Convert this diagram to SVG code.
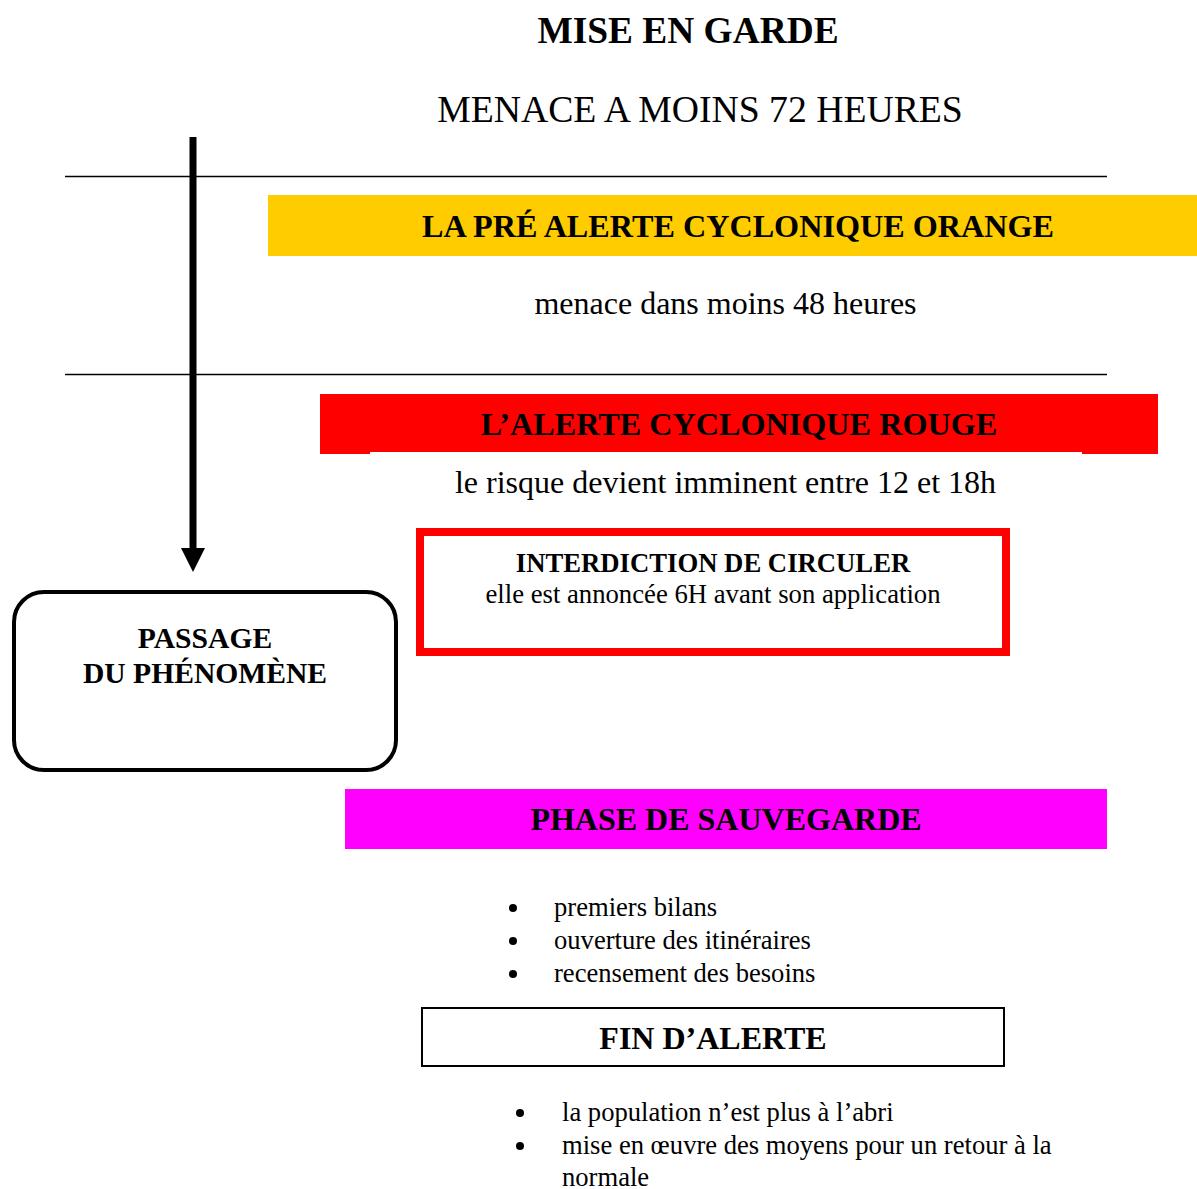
<svg xmlns="http://www.w3.org/2000/svg" width="1197" height="1189" viewBox="0 0 1197 1189">
<style>
text{font-family:"Liberation Serif","Times New Roman",serif;fill:#000}
.b{font-weight:bold}
.c{text-anchor:middle}
.rule{stroke:#000;stroke-width:1.5}
.li{font-size:26.6px}
</style>
<rect width="1197" height="1189" fill="#fff"/>
<g id="title">
<text class="b c" x="688" y="43" font-size="37.4">MISE EN GARDE</text>
<text class="c" x="700" y="122" font-size="37.7">MENACE A MOINS 72 HEURES</text>
</g>
<g id="rules">
<line class="rule" x1="65" y1="176.5" x2="1107" y2="176.5"/>
<line class="rule" x1="65" y1="374.5" x2="1107" y2="374.5"/>
</g>
<g id="pre-alerte">
<rect x="268" y="195" width="929" height="61" fill="#FFCC00"/>
<text class="b c" x="738" y="237" font-size="32.2">LA PRÉ ALERTE CYCLONIQUE ORANGE</text>
<text class="c" x="725.5" y="314" font-size="32">menace dans moins 48 heures</text>
</g>
<g id="alerte-rouge">
<rect x="320" y="394" width="838" height="58" fill="#FF0000"/>
<rect x="320" y="450" width="50" height="4" fill="#FF0000"/>
<rect x="1082" y="450" width="76" height="4" fill="#FF0000"/>
<text class="b c" x="739" y="435" font-size="32.2">L’ALERTE CYCLONIQUE ROUGE</text>
<text class="c" x="725.5" y="493" font-size="32">le risque devient imminent entre 12 et 18h</text>
</g>
<g id="interdiction">
<rect x="420" y="532" width="586" height="120" fill="#fff" stroke="#FF0000" stroke-width="8"/>
<text class="b c" x="713" y="572" font-size="26.7">INTERDICTION DE CIRCULER</text>
<text class="c" x="713" y="603" font-size="26.7">elle est annoncée 6H avant son application</text>
</g>
<g id="passage">
<rect x="14" y="592" width="382" height="178" rx="30" ry="30" fill="#fff" stroke="#000" stroke-width="4"/>
<text class="b c" x="205" y="648" font-size="29.6">PASSAGE</text>
<text class="b c" x="205" y="683" font-size="29.6">DU PHÉNOMÈNE</text>
</g>
<g id="sauvegarde">
<rect x="345" y="789" width="762" height="60" fill="#FF00FF"/>
<text class="b c" x="726" y="830" font-size="32">PHASE DE SAUVEGARDE</text>
<g class="li">
<circle cx="513" cy="908" r="4"/>
<text x="554" y="916">premiers bilans</text>
<circle cx="513" cy="941" r="4"/>
<text x="554" y="949">ouverture des itinéraires</text>
<circle cx="513" cy="974" r="4"/>
<text x="554" y="982">recensement des besoins</text>
</g>
</g>
<g id="fin-alerte">
<rect x="422" y="1008" width="582" height="58" fill="#fff" stroke="#000" stroke-width="2"/>
<text class="b c" x="713" y="1049" font-size="32">FIN D’ALERTE</text>
<g class="li">
<circle cx="520" cy="1113" r="4"/>
<text x="562" y="1121">la population n’est plus à l’abri</text>
<circle cx="520" cy="1146" r="4"/>
<text x="562" y="1154">mise en œuvre des moyens pour un retour à la</text>
<text x="562" y="1186">normale</text>
</g>
</g>
<g id="connectors">
<line x1="193" y1="137" x2="193" y2="550" stroke="#000" stroke-width="7"/>
<polygon points="181,548 205,548 193,572" fill="#000"/>
</g>
</svg>
